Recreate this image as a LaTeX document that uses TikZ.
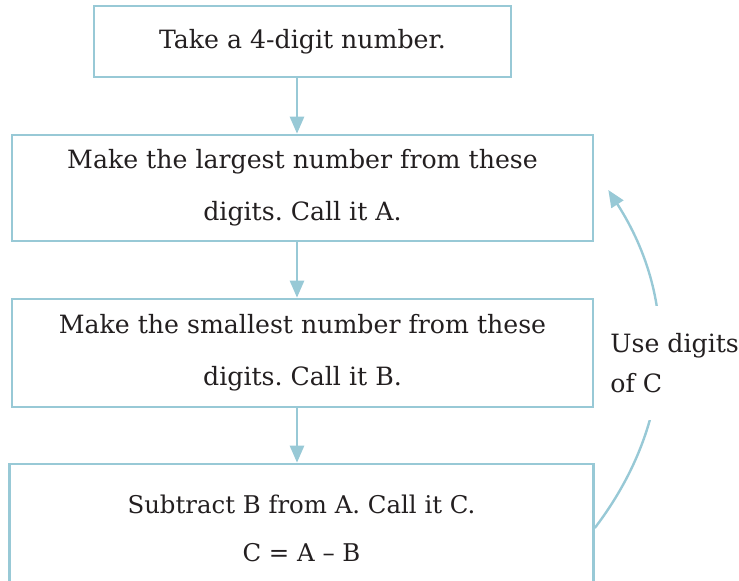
\documentclass[tikz,border=0pt]{standalone}
\usepackage{fontspec}
\setmainfont{DejaVu Serif}
\usetikzlibrary{arrows.meta, positioning}
\definecolor{flowblue}{RGB}{152,201,214}
\definecolor{inkgray}{RGB}{35,31,32}
\frenchspacing

\begin{document}
\begin{tikzpicture}[
  x=0.5pt, y=-0.5pt,
  stepbox/.style={draw=flowblue, line width=1.3pt, inner sep=0pt, align=center,
                  text=inkgray, font=\fontsize{12.6}{26}\selectfont},
  flow/.style={-{Triangle[length=8.5pt, width=7pt]}, draw=flowblue, line width=1.3pt},
  back/.style={flow, line width=1.2pt},
  note/.style={fill=white, align=left, text=inkgray, inner sep=0pt,
               minimum height=57pt, font=\fontsize{12.6}{20}\selectfont},
]
\useasboundingbox (0,0) rectangle (739,581);
\clip (0,0) rectangle (739,581);

% --- the four steps ---
\node[stepbox, minimum width=208.5pt, minimum height=35.5pt] (take) at (302.5,41.5)
  {Take a 4-digit number.};
\node[stepbox, minimum width=290.5pt, minimum height=53pt] (largest) at (302.5,188)
  {Make the largest number from these\\digits. Call it A.};
\node[stepbox, minimum width=290.5pt, minimum height=54pt] (smallest) at (302.5,353)
  {Make the smallest number from these\\digits. Call it B.};
\node[stepbox, minimum width=292pt, minimum height=64pt,
      font=\fontsize{12.2}{24}\selectfont] (subtract) at (301.5,528)
  {Subtract B from A. Call it C.\\C = A \textendash{} B};

% --- arrows down ---
\draw[flow] ([xshift=-2.75pt]take.south) -- ([xshift=-2.75pt]largest.north);
\draw[flow] ([xshift=-2.75pt]largest.south) -- ([xshift=-2.75pt]smallest.north);
\draw[flow] ([xshift=-2.75pt]smallest.south) -- ([xshift=-2.25pt]subtract.north);

% --- loop back to the top ---
\draw[back] (subtract.east) to[bend right=35] ([xshift=7pt, yshift=-1pt]largest.east);
\node[note, anchor=west] (uselabel) at (610,363) {Use digits\\of C};

\end{tikzpicture}
\end{document}
